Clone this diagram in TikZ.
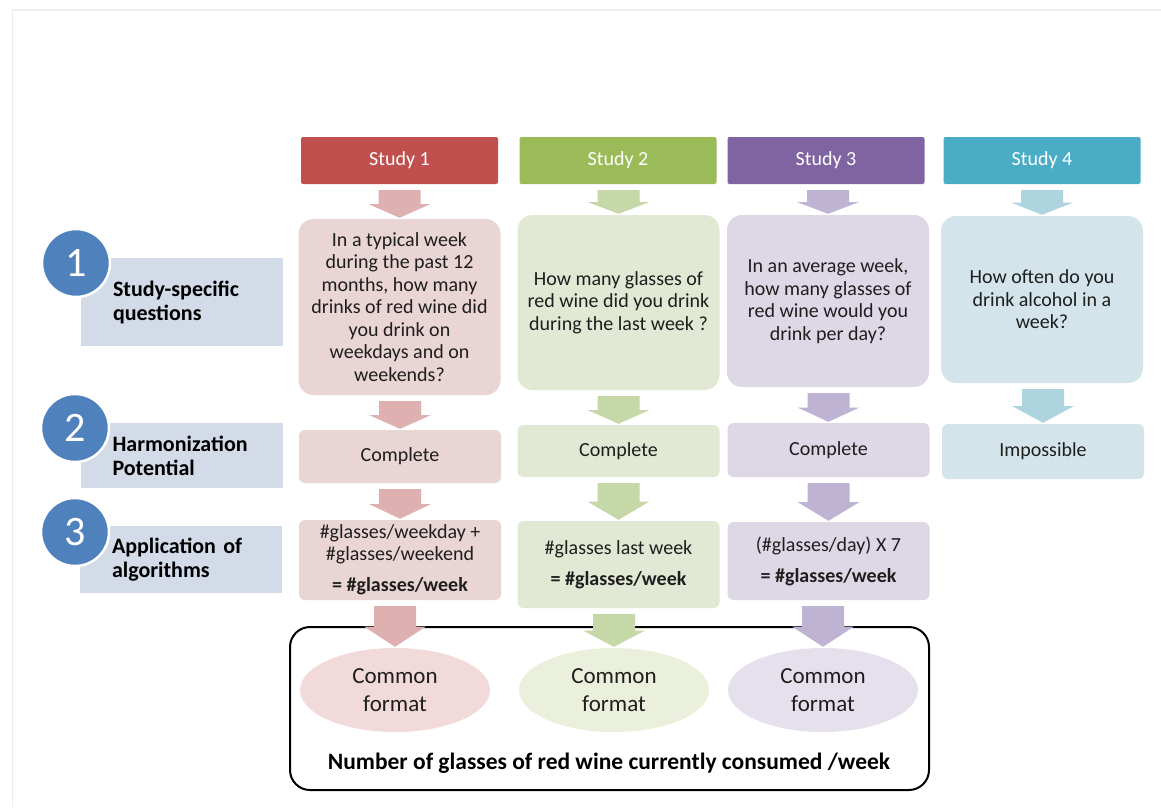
\documentclass[tikz,border=0pt]{standalone}
\usepackage{fontspec}
\setmainfont{Carlito}
\usetikzlibrary{shapes.geometric,calc}
\definecolor{hred}{HTML}{C0504D}
\definecolor{hgreen}{HTML}{9BBB59}
\definecolor{hpurple}{HTML}{8064A2}
\definecolor{hteal}{HTML}{4BACC6}
\definecolor{bred}{HTML}{EAD5D5}
\definecolor{bgreen}{HTML}{E1E9D5}
\definecolor{bpurple}{HTML}{DED8E6}
\definecolor{bteal}{HTML}{D3E5EB}
\definecolor{ared}{HTML}{DEB0B0}
\definecolor{agreen}{HTML}{C7D8A8}
\definecolor{apurple}{HTML}{BEB3D3}
\definecolor{ateal}{HTML}{AED4E0}
\definecolor{ered}{HTML}{F2DADA}
\definecolor{egreen}{HTML}{EAF0DC}
\definecolor{epurple}{HTML}{E6E0EC}
\definecolor{lblbox}{HTML}{D3DBE8}
\definecolor{circblue}{HTML}{4F81BD}
\definecolor{txt}{HTML}{1E1E1E}
\newcommand{\blockarrow}[3]{%
  \fill[#1] let \p1=($(#2.south)+(0,6)$), \p2=($(#3.north)+(0,-1)$),
    \p3=($(\p1)!0.5!(\p2)$) in
    (\x2-21pt,\y1) -- (\x2+21pt,\y1) -- (\x2+21pt,\y3) -- (\x2+31pt,\y3) --
    (\x2,\y2) -- (\x2-31pt,\y3) -- (\x2-21pt,\y3) -- cycle;}
\tikzset{
  header/.style={rectangle, rounded corners=2pt, minimum width=197pt, minimum height=47pt,
    inner sep=0pt, text=white, font=\fontsize{20}{22}\selectfont},
  qbox/.style={rectangle, rounded corners=15pt, minimum width=202pt, inner sep=0pt,
    align=center, text=txt, font=\fontsize{20}{22.5}\selectfont},
  cbox/.style={rectangle, rounded corners=6pt, minimum width=202pt, inner sep=0pt,
    align=center, text=txt, font=\fontsize{20}{22}\selectfont},
  cellip/.style={ellipse, minimum width=190pt, minimum height=84pt, inner sep=0pt,
    align=center, text=txt, font=\fontsize{23}{28}\selectfont},
  lbox/.style={rectangle, fill=lblbox, minimum width=202pt, inner sep=0pt,
    text width=138pt, align=left, text=black, font=\bfseries\fontsize{22}{24}\selectfont},
  numcirc/.style={circle, fill=circblue, draw=white, line width=2.5pt, minimum size=68pt,
    inner sep=0pt, text=white, font=\fontsize{42}{42}\selectfont},
  pageline/.style={draw=black!7, line width=1.5pt}
}
\begin{document}
\begin{tikzpicture}[x=1pt,y=-1pt]
\useasboundingbox (0,0) rectangle (1161,807);
\fill[white] (0,0) rectangle (1161,807);
\coordinate (pl1) at (12.5,807);
\coordinate (pl2) at (12.5,10);
\coordinate (pl3) at (1161,10);
\draw[pageline] (pl1) -- (pl2) -- (pl3);

% left labels
\node[lbox, minimum height=88pt] (l1) at (182,302) {Study-specific\\questions};
\node[lbox, minimum height=65pt] (l2) at (181.5,455.5) {Harmonization\\Potential};
\node[lbox, minimum height=67pt] (l3) at (181,559.5) {Application of\\algorithms};
\node[numcirc] (n1) at (76,263) {1};
\node[numcirc] (n2) at (75,428) {2};
\node[numcirc] (n3) at (75,532) {3};

% frame
\node[draw=black, line width=2pt, rounded corners=20pt, minimum width=639pt, minimum height=163pt, inner sep=0pt] (frame) at (609.5,708.5) {};
\node[font=\bfseries\fontsize{23.5}{26}\selectfont, text=black] (bottom) at (609,763) {Number of glasses of red wine currently consumed /week};

% study 1
\node[header, fill=hred] (h1) at (399.5,160.5) {Study 1};
\node[qbox, fill=bred, minimum height=176pt] (q1) at (399.5,307) {In a typical week\\during the past 12\\months, how many\\drinks of red wine did\\you drink on\\weekdays and on\\weekends?};
\node[cbox, fill=bred, minimum height=53pt] (c1) at (400,456.5) {Complete};
\node[cbox, fill=bred, minimum height=80pt] (a1) at (400,560) {\#glasses/weekday +\\\#glasses/weekend\\[9pt]\textbf{= \#glasses/week}};
\node[cellip, fill=ered] (e1) at (395,690) {Common\\format};

% study 2
\node[header, fill=hgreen] (h2) at (618,160.5) {Study 2};
\node[qbox, fill=bgreen, minimum height=175pt] (q2) at (618.5,302.5) {How many glasses of\\red wine did you drink\\during the last week ?};
\node[cbox, fill=bgreen, minimum height=52pt] (c2) at (618.5,451) {Complete};
\node[cbox, fill=bgreen, minimum height=87pt] (a2) at (618.5,564.5) {\#glasses last week\\[9pt]\textbf{= \#glasses/week}};
\node[cellip, fill=egreen] (e2) at (614,690) {Common\\format};

% study 3
\node[header, fill=hpurple] (h3) at (826,160.5) {Study 3};
\node[qbox, fill=bpurple, minimum height=172pt] (q3) at (828,301) {In an average week,\\how many glasses of\\red wine would you\\drink per day?};
\node[cbox, fill=bpurple, minimum height=54pt] (c3) at (828.5,450) {Complete};
\node[cbox, fill=bpurple, minimum height=78pt] (a3) at (828.5,561) {(\#glasses/day) X 7\\[9pt]\textbf{= \#glasses/week}};
\node[cellip, fill=epurple] (e3) at (823,690) {Common\\format};

% study 4
\node[header, fill=hteal] (h4) at (1042,160.5) {Study 4};
\node[qbox, fill=bteal, minimum height=167pt] (q4) at (1042,299.5) {How often do you\\drink alcohol in a\\week?};
\node[cbox, fill=bteal, minimum height=55pt] (c4) at (1043,451.5) {Impossible};

% block arrows
\blockarrow{ared}{h1}{q1}
\blockarrow{ared}{q1}{c1}
\blockarrow{ared}{c1}{a1}
\blockarrow{ared}{a1}{e1}
\blockarrow{agreen}{h2}{q2}
\blockarrow{agreen}{q2}{c2}
\blockarrow{agreen}{c2}{a2}
\blockarrow{agreen}{a2}{e2}
\blockarrow{apurple}{h3}{q3}
\blockarrow{apurple}{q3}{c3}
\blockarrow{apurple}{c3}{a3}
\blockarrow{apurple}{a3}{e3}
\blockarrow{ateal}{h4}{q4}
\blockarrow{ateal}{q4}{c4}
\end{tikzpicture}
\end{document}
